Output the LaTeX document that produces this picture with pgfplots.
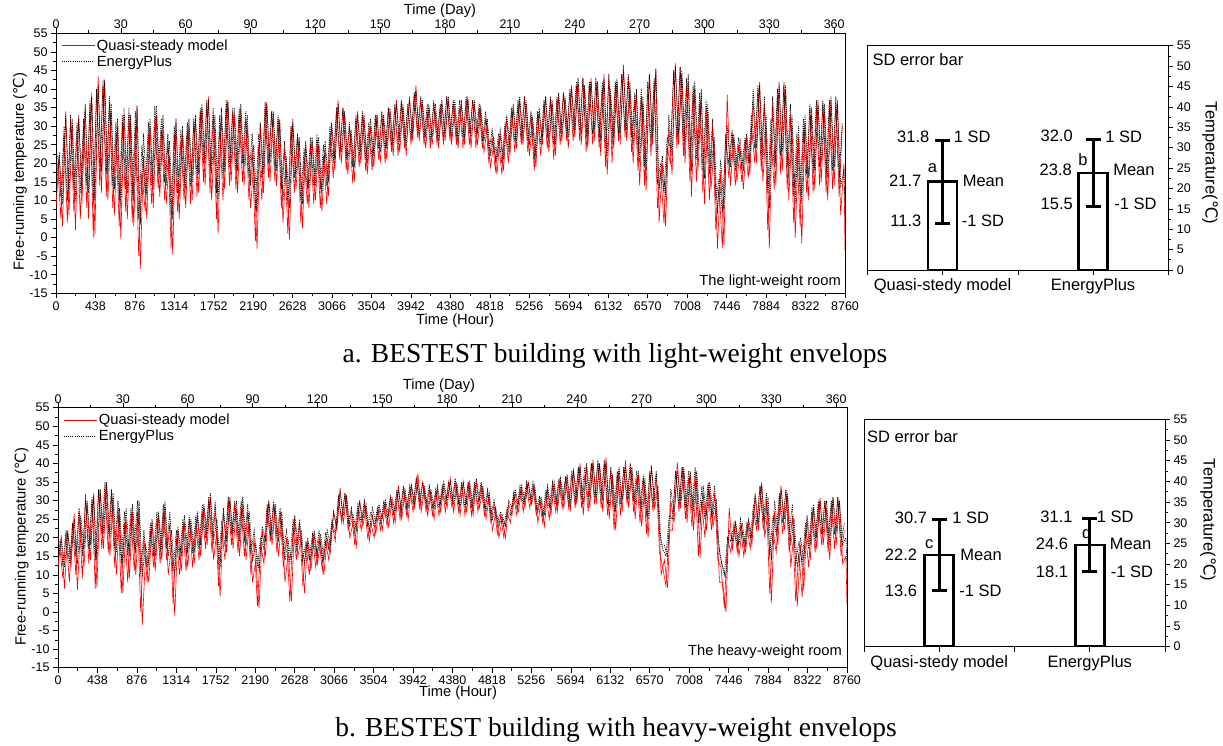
\documentclass[border=0pt]{standalone}
\usepackage{pgfplots}
\pgfplotsset{compat=1.18}
\usepackage{pgfplotstable}
\usepackage{fontspec}
\setmainfont{Liberation Sans}
\newfontfamily\capfont{Liberation Serif}
\newfontfamily\dejavu{DejaVu Sans}
\newcommand{\degC}{{\dejavu ℃}}
\newcommand{\lab}{\fontsize{14.7}{17}\selectfont}
\newcommand{\tck}{\fontsize{12.5}{14}\selectfont}
\newcommand{\bl}{\fontsize{16.5}{18}\selectfont}

\pgfplotstableread{
h q e
0 8 12
36 22 23
72 3 9
108 34 33
144 6 12
180 30 32
216 2 10
252 33 32
288 9 14
324 35 36
360 5 12
396 39 38
432 0.5 10
468 43.5 41
504 12 18
540 42 42.5
576 10 17
612 34 36
648 6 13
684 30 32
720 -0.5 8
756 33 35
792 5 12
828 31 33
864 3 10
900 35 35.5
936 -8.5 3.5
972 22 28
1008 5 11
1044 30 32
1080 8 13
1116 33 35.5
1152 11 16
1188 30 33
1224 9 14
1260 22 26
1296 -4.5 5
1332 31 32
1368 5 11
1404 28 30
1440 8 13
1476 30 32
1512 10 15
1548 32 33
1584 12 17
1620 35 36
1656 14 20
1692 38 37
1728 10 17
1764 30 33
1800 1 10
1836 33 35
1872 13 18
1908 37 36.5
1944 15 20
1980 33 35
2016 12 18
2052 34 36
2088 14 19
2124 30 33
2160 8 14
2196 20 25
2232 -3 7
2268 30 31
2304 12 17
2340 36.5 36
2376 15 20
2412 33 34
2448 14 18
2484 31 32
2520 4 10
2556 20 22
2592 -0.5 8
2628 32 31
2664 13 17
2700 26 27
2736 2.5 9
2772 25 26
2808 8 13
2844 26 27
2880 10 14
2916 25 27
2952 7 12
2988 24 26
3024 11 15
3060 30 31
3096 18 21
3132 37 36
3168 20 23
3204 33 34
3240 17 21
3276 28 29
3312 15 19
3348 34 33
3384 20 23
3420 32 33
3456 17 20
3492 30 32
3528 19 22
3564 33 33
3600 20 23
3636 32 33
3672 21 24
3708 34 35
3744 22 25
3780 37 36
3816 23 26
3852 35 36
3888 22 25
3924 38 37
3960 26 28
3996 41 39.5
4032 26 28
4068 36 37
4104 24 27
4140 35 36
4176 25 27
4212 34 36
4248 24 26
4284 36 37
4320 26 28
4356 37 38
4392 25 27
4428 35 37
4464 24 26
4500 36 37
4536 25 27
4572 38 37
4608 24 27
4644 36 37
4680 25 28
4716 34 35
4752 23 26
4788 30 32
4824 19 22
4860 25 27
4896 17 21
4932 28 29
4968 18 21
5004 32 33
5040 22 25
5076 35 36
5112 24 26
5148 37 38
5184 25 27
5220 36 37
5256 22 25
5292 31 32
5328 19 22
5364 34 35
5400 25 27
5436 38 38
5472 23 26
5508 36 37
5544 22 25
5580 38 39
5616 26 28
5652 37 38
5688 24 27
5724 41 40
5760 27 29
5796 42 43
5832 25 28
5868 40 41
5904 24 27
5940 43 42
5976 26 29
6012 41 42
6048 22 26
6084 44 43
6120 17 22
6156 38 40
6192 24 27
6228 42 43
6264 25 28
6300 46.5 45
6336 26 29
6372 40 42
6408 20 25
6444 39 40
6480 14 20
6516 36 38
6552 12.5 18
6588 44 44
6624 25 27
6660 45 45.5
6696 4 13
6732 20 22
6768 3 11
6804 30 33
6840 17 22
6876 47 46
6912 25 28
6948 44 45
6984 20 25
7020 42 44
7056 11 18
7092 40 42
7128 18 23
7164 38 40
7200 9 16
7236 33 36
7272 13 18
7308 25 27
7344 -3 6.5
7380 18 21
7416 -2 8
7452 38.5 30
7488 14 19
7524 27 28
7560 15 19
7596 24 26
7632 13 18
7668 27 28
7704 17 20
7740 37 40
7776 20 24
7812 42 41
7848 15 21
7884 30 33
7920 -3 8
7956 36 38
7992 14 20
8028 41 42
8064 18 23
8100 40 41
8136 10 16
8172 30 33
8208 0 9
8244 27 30
8280 -1.5 9
8316 31 33
8352 10 16
8388 33 35
8424 13 18
8460 37 36
8496 15 20
8532 34 36
8568 10 16
8604 37 38
8640 14 19
8676 37 36
8712 6 14
8748 20 18
8760 -3.6 8
}\lightdata

\pgfplotstableread{
h q e
18 20 22
54 5 11
90 28 30
126 4 10
162 32 33
198 7 13
234 29 31
270 5 12
306 30 32
342 8 14
378 36 37
414 0 9
450 40 40
486 14 19
522 42.5 41
558 11 17
594 36 38
630 8 14
666 28 31
702 3 10
738 31 33
774 7 13
810 33 35
846 4 11
882 30 34
918 -5 5
954 18 25
990 7 12
1026 28 31
1062 9 14
1098 32 35.5
1134 13 17
1170 29 32
1206 10 15
1242 26 28
1278 -3 6
1314 28 30
1350 7 12
1386 26 29
1422 10 14
1458 29 31
1494 9 14
1530 31 32
1566 11 16
1602 34 35
1638 15 20
1674 36 37
1710 12 18
1746 33 35
1782 5 12
1818 30 33
1854 10 16
1890 36 37
1926 14 19
1962 34 35
1998 13 18
2034 33 35
2070 15 20
2106 32 34
2142 10 16
2178 24 28
2214 -1 8
2250 25 28
2286 10 16
2322 35 36.5
2358 16 20
2394 34 34
2430 15 19
2466 32 33
2502 8 13
2538 24 26
2574 1 9
2610 30 30
2646 12 16
2682 28 28
2718 4 10
2754 22 24
2790 9 13
2826 25 27
2862 9 14
2898 26 28
2934 8 13
2970 22 25
3006 9 14
3042 28 30
3078 16 20
3114 34 35
3150 21 23
3186 35 35
3222 18 21
3258 30 31
3294 14.6 19
3330 32 33
3366 19 22
3402 33 34
3438 18 21
3474 29 31
3510 18 21
3546 32 33
3582 21 24
3618 33 34
3654 20 23
3690 35 35
3726 23 25
3762 35 36
3798 22 25
3834 36 37
3870 24 26
3906 35 36
3942 25 27
3978 39 39
4014 27 29
4050 37 38
4086 25 27
4122 34 36
4158 24 26
4194 36 37
4230 25 27
4266 35 36
4302 25 27
4338 38 38
4374 26 28
4410 36 37
4446 25 27
4482 35 37
4518 24 27
4554 37 38
4590 25 28
4626 37 37
4662 24 27
4698 35 36
4734 24 26
4770 32 34
4806 20 23
4842 27 29
4878 18 21
4914 26 28
4950 17 20
4986 30 31
5022 20 23
5058 34 35
5094 23 26
5130 36 37
5166 25 27
5202 38 38
5238 23 26
5274 33 34
5310 18 21
5346 33 34
5382 22 25
5418 36 37
5454 24 27
5490 37 38
5526 21 25
5562 37 38
5598 25 28
5634 39 39
5670 26 28
5706 39 40
5742 26 29
5778 41 42
5814 26 29
5850 43 43
5886 23 27
5922 41 42
5958 25 28
5994 42 43
6030 24 27
6066 40 42
6102 19 24
6138 43 44
6174 20 25
6210 41 42
6246 26 28
6282 44 44
6318 27 29
6354 43 44
6390 23 27
6426 37 39
6462 18 23
6498 38 40
6534 14 19
6570 40 42
6606 22 26
6642 42 43
6678 8 15
6714 18 20
6750 3.8 12
6786 24 27
6822 20 24
6858 45 45
6894 24 27
6930 46 46
6966 22 26
7002 41 43
7038 15 21
7074 39 41
7110 15 21
7146 36 39
7182 12 18
7218 35 37
7254 10 17
7290 30 32
7326 2 10
7362 14 16
7398 -2.9 7
7434 28 26
7470 16 20
7506 28 29
7542 14 18
7578 25 27
7614 15 19
7650 26 27
7686 16 20
7722 30 33
7758 20 24
7794 40 41
7830 18 22
7866 36 38
7902 2 12
7938 28 32
7974 13 19
8010 38 40
8046 17 22
8082 42 41
8118 13 19
8154 33 36
8190 4 11
8226 24 28
8262 3 11
8298 29 32
8334 12 17
8370 35 36
8406 12 17
8442 35 37
8478 14 19
8514 36 37
8550 12 17
8586 35 37
8622 13 18
8658 36 38
8694 11 16
8730 30 31
}\lightdatab

\pgfplotstableread{
h q e
0 12 14
36 20 20
72 6.3 12
108 22 21
144 12 15
180 26.5 25
216 6 13
252 24 26
288 12 17
324 29 30
360 14 18
396 32 31
432 6.5 14
468 33 33
504 17 21
540 34 35
576 15 20
612 30 32
648 10 16
684 26 28
720 5 13
756 25 28
792 9 15
828 27 29
864 10 16
900 28 30
936 -3.5 9.5
972 15 18
1008 8 13
1044 24 25
1080 11 15
1116 26 27
1152 14 17
1188 28 30
1224 10 15
1260 18 22
1296 -1 10
1332 22 23
1368 11 15
1404 24 26
1440 12 16
1476 23 25
1512 13 16
1548 26 27
1584 15 18
1620 28 29
1656 18 21
1692 31 32
1728 14 19
1764 22 25
1800 4 12
1836 27 28
1872 16 19
1908 31 30
1944 17 21
1980 28 30
2016 15 19
2052 29 31
2088 14 18
2124 24 27
2160 8 14
2196 14 18
2232 1 11.5
2268 22 23
2304 15 19
2340 30 30
2376 18 21
2412 28 29
2448 15 19
2484 25 27
2520 8 14
2556 16 19
2592 3 14
2628 25 26
2664 15 18
2700 20 22
2736 5 13
2772 19 20
2808 11 14
2844 21 22
2880 13 15
2916 19 21
2952 10 14
2988 20 22
3024 16 18
3060 27 27
3096 22 23
3132 33.5 32
3168 24 26
3204 31 31
3240 20 23
3276 24 26
3312 17.5 22
3348 30 30
3384 23 25
3420 28 29
3456 19 22
3492 26 28
3528 21 24
3564 28 29
3600 22 25
3636 29 30
3672 23 26
3708 30 31
3744 24 27
3780 34 33
3816 25 27
3852 32 33
3888 25 28
3924 34 34
3960 28 29
3996 37.3 35
4032 27 29
4068 33 34
4104 26 28
4140 32 33
4176 25 28
4212 33 34
4248 27 29
4284 34 35
4320 28 30
4356 36 35
4392 27 29
4428 34 35
4464 26 28
4500 35 35
4536 27 29
4572 34 35
4608 26 28
4644 35 36
4680 28 30
4716 33 34
4752 25 27
4788 31 32
4824 22 25
4860 27 28
4896 20 23
4932 25 26
4968 20 23
5004 29 30
5040 26 28
5076 32 33
5112 27 29
5148 33 34
5184 28 30
5220 35 35
5256 29 30
5292 33 34
5328 24 27
5364 30 31
5400 23 26
5436 33 34
5472 26 28
5508 34 35
5544 27 29
5580 35 36
5616 28 30
5652 36 37
5688 27 29
5724 38 38
5760 29 31
5796 40 39
5832 26 29
5868 39 40
5904 28 31
5940 41 40
5976 29 31
6012 40 40
6048 27 30
6084 41.6 40
6120 25 28
6156 36 37
6192 22 27
6228 38 39
6264 27 30
6300 40.8 39
6336 28 31
6372 38 39
6408 25 29
6444 37 38
6480 23 27
6516 34 36
6552 20 25
6588 39.6 39
6624 28 30
6660 33 34
6696 10 18
6732 14 18
6768 6.5 14.8
6804 30 33
6840 24 27
6876 40.3 38
6912 28 30
6948 38 39
6984 24 27
7020 37 38
7056 22 27
7092 36 38
7128 14.5 24
7164 32 34
7200 22 26
7236 33 35
7272 23 26
7308 28 30
7344 8 16
7380 8 12
7416 0 9.4
7452 28 22
7488 17 19
7524 24 24
7560 15 18
7596 22 24
7632 16 18
7668 24 25
7704 18 20
7740 31 32
7776 22 24
7812 35 34
7848 20 24
7884 28 31
7920 2.4 14
7956 27 30
7992 18 22
8028 34 33
8064 22 25
8100 31 32
8136 12 18
8172 22 25
8208 1.5 12
8244 18 20
8280 6 14
8316 25 26
8352 14 18
8388 28 29
8424 17 20
8460 30.8 30
8496 18 21
8532 28 30
8568 14 18
8604 31 31
8640 18 22
8676 30 30
8712 13 18
8748 15 20
8760 2 13
}\heavydata

\pgfplotstableread{
h q e
18 18 19
54 9 13
90 21 22
126 8 13
162 24 24
198 10 15
234 27 28
270 9 15
306 31.8 30
342 13 17
378 30 31
414 6.3 14
450 33 33
486 17 21
522 33 35
558 16 21
594 32 33
630 12 17
666 28 30
702 5 13
738 24 27
774 8 15
810 26 28
846 11 17
882 27 30
918 0 10
954 20 22
990 8 12
1026 22 24
1062 12 15
1098 25 27
1134 13 16
1170 27 29
1206 14 17
1242 24 27
1278 2 11
1314 20 22
1350 10 14
1386 23 25
1422 11 15
1458 25 26
1494 12 16
1530 24 26
1566 14 17
1602 27 29
1638 17 20
1674 30 31
1710 16 20
1746 28 30
1782 7 14
1818 22 24
1854 14 18
1890 30 31
1926 18 21
1962 29 30
1998 16 20
2034 28 30
2070 15 19
2106 27 29
2142 10 16
2178 20 22
2214 1.5 12
2250 18 20
2286 13 17
2322 28 29
2358 19 21
2394 29 30
2430 16 20
2466 27 28
2502 12 17
2538 20 22
2574 2.7 13
2610 23 25
2646 14 17
2682 24 25
2718 7 14
2754 18 19
2790 10 14
2826 20 21
2862 12 15
2898 20 22
2934 11 14
2970 19 21
3006 14 17
3042 24 25
3078 19 21
3114 31 31
3150 24 25
3186 32 32
3222 22 24
3258 27 28
3294 18 22
3330 28 29
3366 22 24
3402 29 30
3438 20 23
3474 24 27
3510 20 23
3546 27 28
3582 22 24
3618 29 30
3654 23 25
3690 31 31
3726 24 26
3762 32 33
3798 25 27
3834 33 34
3870 26 28
3906 33 34
3942 27 29
3978 36 36
4014 28 30
4050 35 35
4086 27 29
4122 33 34
4158 26 28
4194 32 33
4230 26 28
4266 33 34
4302 27 29
4338 35 35
4374 28 30
4410 35 36
4446 27 29
4482 34 35
4518 26 28
4554 35 35
4590 26 28
4626 34 35
4662 27 29
4698 34 35
4734 26 28
4770 32 33
4806 24 26
4842 29 30
4878 21 24
4914 26 27
4950 20.1 23
4986 27 28
5022 24 26
5058 31 32
5094 26 28
5130 33 34
5166 27 29
5202 34 35
5238 28 30
5274 34 35
5310 26 28
5346 30 31
5382 24 26
5418 32 33
5454 25 28
5490 34 35
5526 27 29
5562 35 36
5598 28 30
5634 36 36
5670 28 30
5706 37 38
5742 28 30
5778 39 39
5814 28 31
5850 37 39
5886 27 30
5922 40 40
5958 29 31
5994 40 41
6030 28 31
6066 40 41
6102 26 29
6138 38 39
6174 22 27
6210 37 38
6246 26 29
6282 39 39
6318 29 31
6354 39 40
6390 27 30
6426 36 38
6462 24 28
6498 36 37
6534 21 26
6570 37 38
6606 27 29
6642 37 38
6678 16 22
6714 12 17
6750 7 15
6786 22 26
6822 22 25
6858 38 38
6894 27 29
6930 39 39
6966 25 28
7002 36 38
7038 23 27
7074 37 39
7110 15 24
7146 30 33
7182 20 25
7218 34 35
7254 22 26
7290 32 34
7326 14 20
7362 12 14
7398 1 10
7434 20 20
7470 16 19
7506 23 24
7542 16 18
7578 23 25
7614 15 18
7650 23 24
7686 17 20
7722 27 29
7758 22 24
7794 34 34
7830 22 25
7866 30 32
7902 5 15
7938 22 26
7974 16 21
8010 31 32
8046 21 24
8082 33 33
8118 16 21
8154 26 29
8190 3 13
8226 16 19
8262 4 13
8298 22 24
8334 12 17
8370 27 28
8406 16 19
8442 29 30
8478 18 21
8514 30 30
8550 16 20
8586 29 30
8622 17 21
8658 31 31
8694 15 19
8730 22 24
}\heavydatab

\pgfplotsset{
  tsaxis/.style={
    scale only axis, width=789pt, height=260pt,
    xmin=0, xmax=8760, ymin=-15, ymax=55,
    xtick={0,438,876,1314,1752,2190,2628,3066,3504,3942,4380,4818,5256,5694,6132,6570,7008,7446,7884,8322,8760},
    minor x tick num=1,
    ytick={-15,-10,...,55}, minor y tick num=1,
    tick align=outside, xtick pos=left, ytick pos=left,
    major tick length=5pt, minor tick length=3pt,
    tick style={black, line width=0.6pt},
    axis line style={black, line width=0.8pt},
    tick label style={font=\tck},
    /pgf/number format/assume math mode=true,
    /pgf/number format/1000 sep={},
    legend style={at={(rel axis cs:0,1)}, anchor=north west, draw=none, fill=none,
      font=\lab, xshift=2pt, yshift=-2pt, row sep=0pt, cells={anchor=west}},
    legend image code/.code={\draw[##1] (0pt,0pt) -- (33pt,0pt);},
  },
  dayaxis/.style={
    scale only axis, width=789pt, height=260pt,
    xmin=0, xmax=365, ymin=0, ymax=1,
    axis x line*=top, axis y line=none,
    xtick={0,30,...,360}, minor x tick num=1,
    tick align=outside, major tick length=5pt, minor tick length=3pt,
    tick style={black, line width=0.6pt},
    axis line style={black, line width=0.8pt},
    tick label style={font=\tck},
    xticklabel style={yshift=-4pt},
    /pgf/number format/assume math mode=true,
  },
  baraxis/.style={
    scale only axis, width=301pt,
    xmin=0.5, xmax=2.5, ymin=0, ymax=55,
    xtick={0.5,1,1.5,2,2.5}, xticklabels={,Quasi-stedy model,,EnergyPlus,},
    ytick={0,5,...,55}, minor y tick num=1,
    tick align=outside, xtick pos=left, ytick pos=right, yticklabel pos=right,
    major tick length=5pt, minor tick length=3pt,
    tick style={black, line width=0.6pt},
    axis line style={black, line width=0.9pt},
    yticklabel style={font=\tck},
    xticklabel style={font=\bl},
    /pgf/number format/assume math mode=true,
  },
  thebar/.style={ybar, bar width=29pt, fill=white, draw=black, line width=2.8pt,
    error bars/.cd, y dir=both, y explicit,
    error bar style={line width=3pt, black},
    error mark options={rotate=90, line width=3pt, black, mark size=7.5pt}},
  redl/.style={red, line width=0.6pt},
  blkl/.style={black, line width=0.7pt, dash pattern=on 1.1pt off 1.1pt},
}

\begin{document}
\begin{tikzpicture}
\useasboundingbox (0,0) rectangle (1223pt,746pt);

% ---------- a: light-weight ----------
\begin{axis}[tsaxis, at={(56pt,452.7pt)}, anchor=south west]
\addplot[redl] table[x=h,y=q] {\lightdata};
\addlegendentry{Quasi-steady model}
\addplot[redl, forget plot] table[x=h,y=q] {\lightdatab};
\addplot[blkl] table[x=h,y=e] {\lightdata};
\addlegendentry{EnergyPlus}
\addplot[blkl, forget plot] table[x=h,y=e] {\lightdatab};
\node[anchor=south east, inner sep=0pt, font=\lab] at (rel axis cs:1,0) [xshift=-4pt, yshift=5pt] {The light-weight room};
\end{axis}
\begin{axis}[dayaxis, at={(56pt,452.7pt)}, anchor=south west]
\end{axis}
\node[font=\lab] at (440pt,735pt) {Time (Day)};
\node[font=\lab] at (455pt,425pt) {Time (Hour)};
\node[font=\lab, rotate=90] at (20pt,574pt) {Free-running temperature (\degC)};

\begin{axis}[baraxis, height=224.3pt, at={(867.3pt,476pt)}, anchor=south west]
\addplot[thebar] coordinates {(1,21.7) += (0,10.1) -= (0,10.4) (2,23.8) += (0,8.2) -= (0,8.3)};
\node[anchor=west, inner sep=0pt, font=\bl] at (rel axis cs:0,1) [xshift=5pt, yshift=-14pt] {SD error bar};
\node[anchor=east, inner sep=0pt, font=\bl] at (axis cs:1,31.8) [xshift=-13pt, yshift=3pt] {31.8};
\node[anchor=west, inner sep=0pt, font=\bl] at (axis cs:1,31.8) [xshift=11pt, yshift=3pt] {1 SD};
\node[anchor=east, inner sep=0pt, font=\bl] at (axis cs:1,21.7) [xshift=-21pt, yshift=1pt] {21.7};
\node[anchor=west, inner sep=0pt, font=\bl] at (axis cs:1,21.7) [xshift=20pt, yshift=1pt] {Mean};
\node[anchor=east, inner sep=0pt, font=\bl] at (axis cs:1,11.3) [xshift=-21pt, yshift=3pt] {11.3};
\node[anchor=west, inner sep=0pt, font=\bl] at (axis cs:1,11.3) [xshift=19pt, yshift=3pt] {-1 SD};
\node[inner sep=0pt, font=\bl] at (axis cs:1,21.7) [xshift=-10pt, yshift=13pt] {a};
\node[anchor=east, inner sep=0pt, font=\bl] at (axis cs:2,32.0) [xshift=-20pt, yshift=4pt] {32.0};
\node[anchor=west, inner sep=0pt, font=\bl] at (axis cs:2,32.0) [xshift=12pt, yshift=3pt] {1 SD};
\node[anchor=east, inner sep=0pt, font=\bl] at (axis cs:2,23.8) [xshift=-21pt, yshift=3pt] {23.8};
\node[anchor=west, inner sep=0pt, font=\bl] at (axis cs:2,23.8) [xshift=20pt, yshift=3pt] {Mean};
\node[anchor=east, inner sep=0pt, font=\bl] at (axis cs:2,15.5) [xshift=-20pt, yshift=3pt] {15.5};
\node[anchor=west, inner sep=0pt, font=\bl] at (axis cs:2,15.5) [xshift=21pt, yshift=3pt] {-1 SD};
\node[inner sep=0pt, font=\bl] at (axis cs:2,23.8) [xshift=-10pt, yshift=13.5pt] {b};
\end{axis}
\node[font=\bl, rotate=-90] at (1210pt,583pt) {Temperature(\degC)};

\node[font=\capfont\fontsize{27.5}{30}\selectfont] at (615pt,390pt) {a. BESTEST building with light-weight envelops};

% ---------- b: heavy-weight ----------
\begin{axis}[tsaxis, at={(58pt,78.3pt)}, anchor=south west]
\addplot[redl] table[x=h,y=q] {\heavydata};
\addlegendentry{Quasi-steady model}
\addplot[redl, forget plot] table[x=h,y=q] {\heavydatab};
\addplot[blkl] table[x=h,y=e] {\heavydata};
\addlegendentry{EnergyPlus}
\addplot[blkl, forget plot] table[x=h,y=e] {\heavydatab};
\node[anchor=south east, inner sep=0pt, font=\lab] at (rel axis cs:1,0) [xshift=-5pt, yshift=9pt] {The heavy-weight room};
\end{axis}
\begin{axis}[dayaxis, at={(58pt,78.3pt)}, anchor=south west]
\end{axis}
\node[font=\lab] at (439pt,360pt) {Time (Day)};
\node[font=\lab] at (458pt,53pt) {Time (Hour)};
\node[font=\lab, rotate=90] at (21.7pt,199pt) {Free-running temperature (\degC)};

\begin{axis}[baraxis, height=227.3pt, at={(864pt,99.3pt)}, anchor=south west]
\addplot[thebar] coordinates {(1,22.2) += (0,8.5) -= (0,8.6) (2,24.6) += (0,6.5) -= (0,6.5)};
\node[anchor=west, inner sep=0pt, font=\bl] at (rel axis cs:0,1) [xshift=3pt, yshift=-17pt] {SD error bar};
\node[anchor=east, inner sep=0pt, font=\bl] at (axis cs:1,30.7) [xshift=-12pt, yshift=2pt] {30.7};
\node[anchor=west, inner sep=0pt, font=\bl] at (axis cs:1,30.7) [xshift=13pt, yshift=2pt] {1 SD};
\node[anchor=east, inner sep=0pt, font=\bl] at (axis cs:1,22.2) [xshift=-22pt] {22.2};
\node[anchor=west, inner sep=0pt, font=\bl] at (axis cs:1,22.2) [xshift=21pt] {Mean};
\node[anchor=east, inner sep=0pt, font=\bl] at (axis cs:1,13.6) [xshift=-22pt] {13.6};
\node[anchor=west, inner sep=0pt, font=\bl] at (axis cs:1,13.6) [xshift=20pt] {-1 SD};
\node[inner sep=0pt, font=\bl] at (axis cs:1,22.2) [xshift=-10pt, yshift=11pt] {c};
\node[anchor=east, inner sep=0pt, font=\bl] at (axis cs:2,31.1) [xshift=-17pt, yshift=1pt] {31.1};
\node[anchor=west, inner sep=0pt, font=\bl] at (axis cs:2,31.1) [xshift=7pt, yshift=1pt] {1 SD};
\node[anchor=east, inner sep=0pt, font=\bl] at (axis cs:2,24.6) [xshift=-21.5pt, yshift=1pt] {24.6};
\node[anchor=west, inner sep=0pt, font=\bl] at (axis cs:2,24.6) [xshift=20pt, yshift=1pt] {Mean};
\node[anchor=east, inner sep=0pt, font=\bl] at (axis cs:2,18.1) [xshift=-21.5pt] {18.1};
\node[anchor=west, inner sep=0pt, font=\bl] at (axis cs:2,18.1) [xshift=21pt] {-1 SD};
\node[inner sep=0pt, font=\bl] at (axis cs:2,24.6) [xshift=-3pt, yshift=12pt] {d};
\end{axis}
\node[font=\bl, rotate=-90] at (1208pt,226pt) {Temperature(\degC)};

\node[font=\capfont\fontsize{27.5}{30}\selectfont] at (616pt,16pt) {b. BESTEST building with heavy-weight envelops};
\end{tikzpicture}
\end{document}
